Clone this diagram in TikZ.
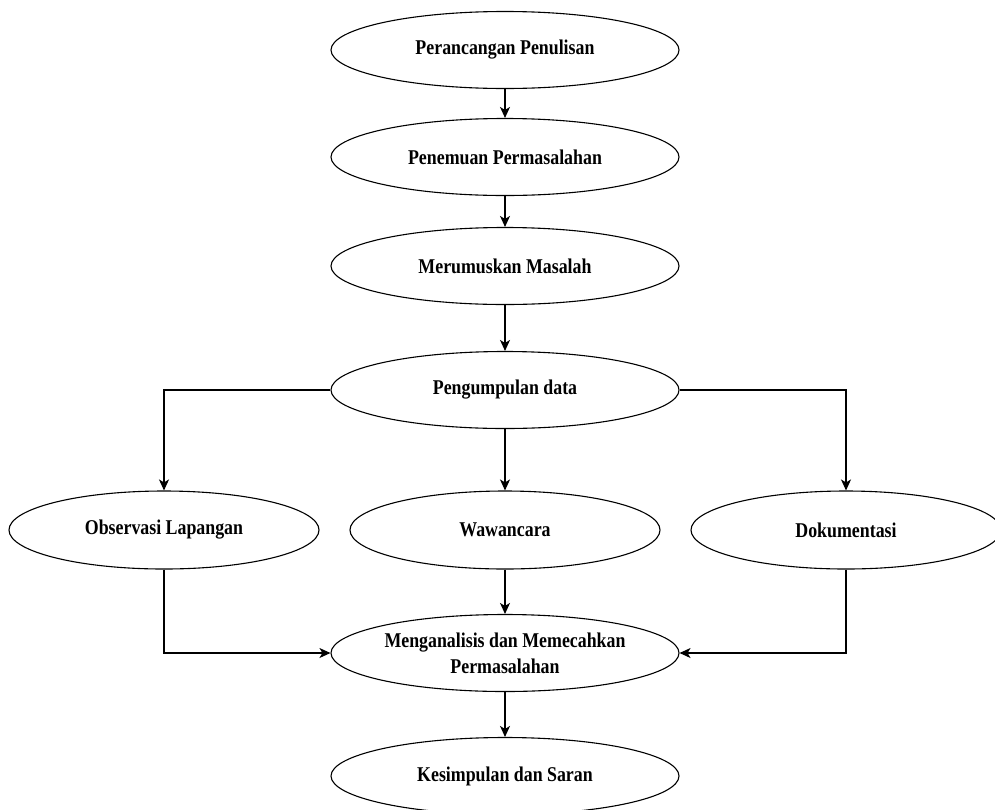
\documentclass[tikz,border=0pt]{standalone}
\usepackage{fontspec}
\setmainfont{Liberation Serif}[FakeStretch=0.85]
\usetikzlibrary{shapes.geometric,arrows.meta}
\begin{document}
\begin{tikzpicture}[x=1pt,y=-1pt,
  el/.style={ellipse,draw=black,line width=1.1pt,inner sep=0pt,
    minimum width=348pt,minimum height=77pt,align=center,
    font=\fontsize{21pt}{26pt}\selectfont\bfseries},
  elsmall/.style={el,minimum width=310pt,minimum height=78pt},
  conn/.style={draw=black,line width=1.1pt,-{Stealth[length=11pt,width=10pt,inset=3pt]}}]
\useasboundingbox (0,0) rectangle (995,809);
\node[el] (a) at (505,50) {Perancangan Penulisan};
\node[el] (b) at (505,157) {Penemuan Permasalahan};
\node[el] (c) at (505,266) {Merumuskan Masalah};
\node[el] (d) at (505,390) {Pengumpulan data};
\node[elsmall] (o) at (164,530) {Observasi Lapangan};
\node[elsmall] (w) at (505,530) {Wawancara};
\node[elsmall] (k) at (846,530) {Dokumentasi};
\node[el] (m) at (505,653) {Menganalisis dan Memecahkan\\Permasalahan};
\node[el] (s) at (505,776) {Kesimpulan dan Saran};
\draw[conn] (a) -- (b);
\draw[conn] (b) -- (c);
\draw[conn] (c) -- (d);
\draw[conn] (d.west) -| (o.north);
\draw[conn] (d) -- (w);
\draw[conn] (d.east) -| (k.north);
\draw[conn] (o.south) |- (m.west);
\draw[conn] (w) -- (m);
\draw[conn] (k.south) |- (m.east);
\draw[conn] (m) -- (s);
\end{tikzpicture}
\end{document}
